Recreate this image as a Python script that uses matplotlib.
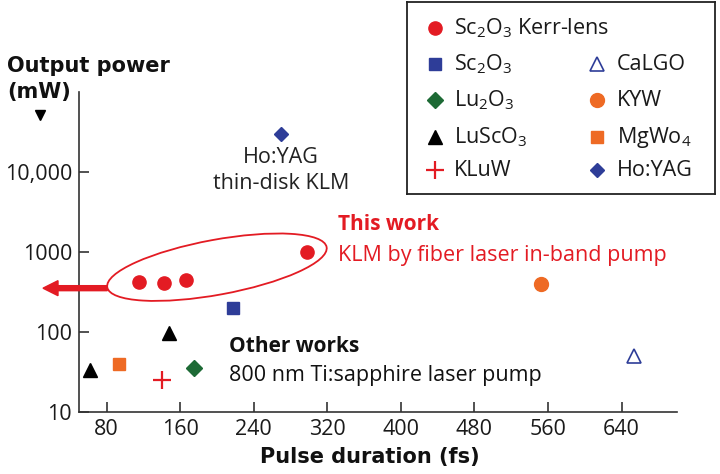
import numpy as np
import matplotlib.pyplot as plt
from matplotlib.patches import Ellipse, FancyArrow
from matplotlib.transforms import IdentityTransform
from matplotlib.lines import Line2D

plt.rcParams['font.family'] = ['Open Sans', 'DejaVu Sans']
plt.rcParams['mathtext.default'] = 'regular'

# data: pulse duration (fs) / output power (mW)
kerr_fs = [115, 142, 166, 298]
kerr_mw = [420, 410, 440, 1000]
sc2o3_fs = [217]
sc2o3_mw = [200]
lu2o3_fs = [175]
lu2o3_mw = [35]
luscO3_fs = [62, 148]
luscO3_mw = [33, 95]
kluw_fs = [140]
kluw_mw = [25]
calgo_fs = [654]
calgo_mw = [50]
kyw_fs = [552]
kyw_mw = [400]
mgwo4_fs = [94]
mgwo4_mw = [40]
hoyag_fs = [270]
hoyag_mw = [30000]

x_ticks = [80, 160, 240, 320, 400, 480, 560, 640]
y_ticks = [10, 100, 1000, 10000]
y_ticklabels = ['10', '100', '1000', '10,000']

RED = '#e31b23'
BLUE = '#2e3d98'
GREEN = '#1d6a35'
ORANGE = '#ee6a24'
FS = 15.5  # regular text size

# marker style for each series
styles = {
    'kerr': dict(marker='o', ms=9.5, color=RED, ls='none'),
    'sc2o3': dict(marker='s', ms=9, color=BLUE, ls='none'),
    'lu2o3': dict(marker='D', ms=8.5, color=GREEN, ls='none'),
    'luscO3': dict(marker='^', ms=10, color='black', ls='none'),
    'kluw': dict(marker='+', ms=13, mew=1.6, color=RED, ls='none'),
    'calgo': dict(marker='^', ms=10, mfc='white', mec=BLUE, mew=1.2, ls='none'),
    'kyw': dict(marker='o', ms=10, color=ORANGE, ls='none'),
    'mgwo4': dict(marker='s', ms=9, color=ORANGE, ls='none'),
    'hoyag': dict(marker='D', ms=7.5, color=BLUE, ls='none'),
}

W, H = 720, 474
def fx(x):
    return x / W
def fy(y):
    return 1 - y / H

fig = plt.figure(figsize=(7.2, 4.74), dpi=100)
ax = fig.add_axes([fx(79), fy(411.7), (676.7 - 79) / W, (411.7 - 91.7) / H])

ax.plot(sc2o3_fs, sc2o3_mw, **styles['sc2o3'])
ax.plot(lu2o3_fs, lu2o3_mw, **styles['lu2o3'])
ax.plot(luscO3_fs, luscO3_mw, **styles['luscO3'])
ax.plot(kluw_fs, kluw_mw, **styles['kluw'])
ax.plot(calgo_fs, calgo_mw, **styles['calgo'])
ax.plot(kyw_fs, kyw_mw, **styles['kyw'])
ax.plot(mgwo4_fs, mgwo4_mw, **styles['mgwo4'])
ax.plot(hoyag_fs, hoyag_mw, **styles['hoyag'])
ax.plot(kerr_fs, kerr_mw, **styles['kerr'])

ax.set_yscale('log')
ax.set_xlim(50, 700)
ax.set_ylim(10, 1e5)
ax.set_xticks(x_ticks)
ax.set_yticks(y_ticks)
ax.set_yticklabels(y_ticklabels)
ax.minorticks_off()
for s in ['top', 'right']:
    ax.spines[s].set_visible(False)
for s in ['left', 'bottom']:
    ax.spines[s].set_color('#333333')
    ax.spines[s].set_linewidth(1.2)
ax.tick_params(direction='in', length=7, width=1.2, labelsize=FS, color='#333333', labelcolor='#1a1a1a', pad=5)

# axis titles (heavier, wider bold face)
bold_kw = dict(fontsize=15, fontweight='bold', family='DejaVu Sans', color='#111111')
fig.text(fx(7), fy(66), 'Output power', va='center', ha='left', **bold_kw)
fig.text(fx(7), fy(92), '(mW)', va='center', ha='left', **bold_kw)
fig.add_artist(Line2D([fx(40)], [fy(115)], marker='v', ms=7.5, color='black', transform=fig.transFigure))
fig.text(fx(370), fy(457), 'Pulse duration (fs)', va='center', ha='center', **bold_kw)

# annotations
fig.text(fx(281), fy(157), 'Ho:YAG', fontsize=FS, color='#222222', ha='center', va='center')
fig.text(fx(281), fy(184), 'thin-disk KLM', fontsize=FS, color='#222222', ha='center', va='center')
fig.text(fx(338), fy(225), 'This work', fontsize=15, fontweight='bold', color=RED, ha='left', va='center')
fig.text(fx(338), fy(255), 'KLM by fiber laser in-band pump', fontsize=FS, color=RED, ha='left', va='center')
fig.text(fx(229), fy(347), 'Other works', fontsize=15, fontweight='bold', color='#111111', ha='left', va='center')
fig.text(fx(229), fy(376), '800 nm Ti:sapphire laser pump', fontsize=FS, color='#111111', ha='left', va='center')

# ellipse round the Kerr-lens points, and arrow to the left
cx, cy = ax.transData.transform((200, 640))
ell_w, ell_h, ell_ang = 223, 55, 10.4
fig.add_artist(Ellipse((cx, cy), ell_w, ell_h, angle=ell_ang, fill=False, ec=RED, lw=1.3,
                       transform=IdentityTransform()))
_, ay = ax.transData.transform((100, 350))
tail_x = cx - ell_w / 2 * np.cos(np.radians(ell_ang))
axes_left = ax.transAxes.transform((0, 0))[0]
tip_x = axes_left - 36
fig.add_artist(FancyArrow(tail_x, ay, tip_x - tail_x, 0, width=5, head_width=15, head_length=15,
                          length_includes_head=True, color=RED, transform=IdentityTransform()))

# legend box
lax = fig.add_axes([fx(407), fy(194), (715 - 407) / W, (194 - 2) / H])
lax.set_xlim(0, 308)
lax.set_ylim(192, 0)
lax.set_xticks([])
lax.set_yticks([])
for s in lax.spines.values():
    s.set_color('#222222')
    s.set_linewidth(1.3)

leg_entries = [
    ('kerr', 'Sc$_2$O$_3$ Kerr-lens', 0, 0),
    ('sc2o3', 'Sc$_2$O$_3$', 0, 1),
    ('lu2o3', 'Lu$_2$O$_3$', 0, 2),
    ('luscO3', 'LuScO$_3$', 0, 3),
    ('kluw', 'KLuW', 0, 4),
    ('calgo', 'CaLGO', 1, 1),
    ('kyw', 'KYW', 1, 2),
    ('mgwo4', 'MgWo$_4$', 1, 3),
    ('hoyag', 'Ho:YAG', 1, 4),
]
col_mx = [28, 190]
col_tx = [47, 210]
row_y = [26, 62, 98, 135, 168]
for key, label, c, r in leg_entries:
    lax.plot([col_mx[c]], [row_y[r]], **styles[key])
    lax.text(col_tx[c], row_y[r], label, fontsize=FS, color='#1a1a1a', ha='left', va='center')

fig.savefig('out.png', dpi=100)
